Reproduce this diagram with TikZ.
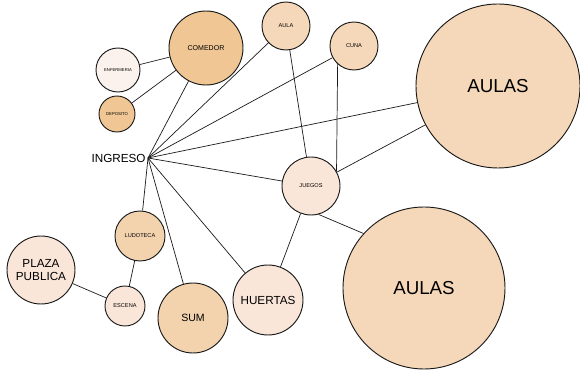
\documentclass[tikz,border=0pt]{standalone}
\usepackage{fontspec}
\setmainfont{Liberation Sans}
\usetikzlibrary{positioning}
\definecolor{spnaranja}{HTML}{F0C794}
\definecolor{spdurazno}{HTML}{F5D8B9}
\definecolor{sparena}{HTML}{F2D3AE}
\definecolor{sprosa}{HTML}{FAE6D8}
\definecolor{spblanco}{HTML}{FBF2ED}
\definecolor{splinea}{HTML}{1A1A1A}

\begin{document}
\begin{tikzpicture}[x=0.03cm, y=-0.03cm,
  sala/.style={circle, draw=splinea, line width=0.8pt, inner sep=0pt, align=center},
  tiny/.style={font=\fontsize{3.6}{4}\selectfont},
  chica/.style={font=\fontsize{4.8}{5.5}\selectfont},
  lazo/.style={draw=splinea, line width=0.6pt}]

\useasboundingbox (0,0) rectangle (580,375);

% ---- administracion ------------------------------------------------
\node[sala, fill=spnaranja, minimum size=2.22cm, font=\fontsize{6}{7}\selectfont]
     (comedor) at (206,48) {COMEDOR};
\node[sala, fill=spblanco, minimum size=1.32cm, tiny] (enfermeria) at (118,70) {ENFERMERIA};
\node[sala, fill=spnaranja, minimum size=1.08cm, tiny] (deposito) at (117,114) {DEPOSITO};

% ---- aulas -----------------------------------------------------------
\node[sala, fill=spdurazno, minimum size=1.44cm, chica] (aula) at (286,26) {AULA};
\node[sala, fill=spdurazno, minimum size=1.44cm, chica] (cuna) at (354,46) {CUNA};
\node[sala, fill=spdurazno, minimum size=4.92cm, font=\fontsize{16}{18}\selectfont]
     (aulasA) at (498,86) {AULAS};
\node[sala, fill=sprosa, minimum size=1.74cm, chica] (juegos) at (311,186) {JUEGOS};
\node[sala, fill=spdurazno, minimum size=4.86cm, font=\fontsize{16}{18}\selectfont]
     (aulasB) at (424,288) {AULAS};

% ---- ingreso ---------------------------------------------------------
\node[anchor=east, inner sep=1pt, font=\fontsize{10}{12}\selectfont] (ingreso) at (147,158) {INGRESO};
\coordinate (hub) at (148,158);

% ---- espacios comunes -----------------------------------------------
\node[sala, fill=sparena, minimum size=1.5cm, chica] (ludoteca) at (140,236) {LUDOTECA};
\node[sala, fill=sprosa, minimum size=2.04cm, font=\fontsize{10}{11}\selectfont]
     (plaza) at (41,270) {PLAZA\\PUBLICA};
\node[sala, fill=sprosa, minimum size=1.2cm, chica] (escena) at (125,306) {ESCENA};
\node[sala, fill=sparena, minimum size=2.1cm, font=\fontsize{9}{10}\selectfont] (sum) at (193,318) {SUM};
\node[sala, fill=sprosa, minimum size=2.1cm, font=\fontsize{10}{11}\selectfont] (huertas) at (268,300) {HUERTAS};

% ---- conexiones ------------------------------------------------------
\draw[lazo] (enfermeria) -- (comedor);
\draw[lazo] (deposito) -- (comedor);
\foreach \dest in {comedor, aula, cuna, aulasA, juegos, ludoteca, sum, huertas}
  \draw[lazo] (hub) -- (\dest);
\draw[lazo] (aula) -- (juegos);
\draw[lazo] (cuna.228) -- (juegos.30);
\draw[lazo] (juegos) -- (aulasA);
\draw[lazo] (juegos.-75) -- (aulasB.138);
\draw[lazo] (huertas) -- (juegos);
\draw[lazo] (plaza) -- (escena);
\draw[lazo] (escena) -- (ludoteca);
\end{tikzpicture}
\end{document}
